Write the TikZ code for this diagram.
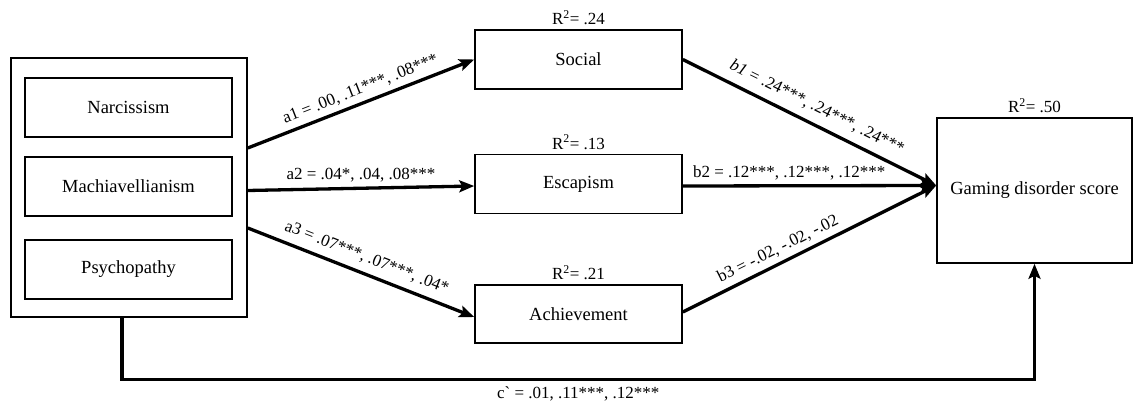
\documentclass[tikz,border=0pt]{standalone}
\usepackage{fontspec}
\setmainfont{Liberation Serif}
\newfontfamily\rawserif[Ligatures=ResetAll]{Liberation Serif}
\usetikzlibrary{arrows.meta}
\begin{document}
\begin{tikzpicture}[x=1pt,y=-1pt,
  box/.style={draw, line width=1.6pt, inner sep=0pt, font=\fontsize{18.5}{22}\selectfont},
  conn/.style={line width=3.3pt, -{Stealth[length=15pt,width=12pt,inset=3pt]}},
  lab/.style={font=\fontsize{17}{20}\selectfont, inner sep=5pt},
  rlab/.style={font=\fontsize{17}{20}\selectfont, above, inner sep=4pt}]
\useasboundingbox (0,0) rectangle (1134,409);
\node[box, minimum width=236pt, minimum height=259pt] (outer) at (129,187.5) {};
\node[box, minimum width=207pt, minimum height=59pt] (narc) at (128.5,107.5) {Narcissism};
\node[box, minimum width=207pt, minimum height=59pt] (mach) at (128.5,186.5) {Machiavellianism};
\node[box, minimum width=207pt, minimum height=59pt] (psych) at (128.5,269.5) {Psychopathy};
\node[box, minimum width=207pt, minimum height=59pt] (soc) at (578.5,59.5) {Social};
\node[box, minimum width=207pt, minimum height=59pt] (esc) at (578.5,184) {Escapism};
\node[box, minimum width=207pt, minimum height=58pt] (ach) at (578.5,314) {Achievement};
\node[box, minimum width=195pt, minimum height=145pt] (gam) at (1034.5,190.5) {Gaming disorder score};
\node[rlab] (r1) at (soc.north) {R\textsuperscript{2}= .24};
\node[rlab] (r2) at (esc.north) {R\textsuperscript{2}= .13};
\node[rlab] (r3) at (ach.north) {R\textsuperscript{2}= .21};
\node[rlab] (r4) at (gam.north) {R\textsuperscript{2}= .50};
\coordinate (gin) at ([yshift=5pt]gam.west);
\draw[conn] ([yshift=39.5pt]outer.east) -- node[lab, pos=0.52, above, sloped] {a1 = .00, .11***, .08***} (soc.west);
\draw[conn] ([yshift=-3pt]outer.east) -- node[lab, midway, above, inner sep=4pt] {a2 = .04*, .04, .08***} ([yshift=-2pt]esc.west);
\draw[conn] ([yshift=-40.5pt]outer.east) -- node[lab, pos=0.5, above, sloped, inner sep=7pt] {a3 = .07***, .07***, .04*} ([yshift=-3pt]ach.west);
\draw[conn] (soc.east) -- node[lab, pos=0.5, above, sloped, inner sep=8pt] {\textit{b1} = .24***, .24***, .24***} (gin);
\draw[conn] ([yshift=-2pt]esc.east) -- node[lab, pos=0.42, above, inner sep=4pt] {b2 = .12***, .12***, .12***} (gin);
\draw[conn] ([yshift=2pt]ach.east) -- node[lab, pos=0.4, above, sloped] {b3 = -.02, -.02, -.02} (gin);
\draw[conn] ([xshift=-7pt]outer.south) -- ++(0,62) -| node[lab, pos=0.25, below, inner sep=5pt] {c{\rawserif`} = .01, .11***, .12***} (gam.south);
\end{tikzpicture}
\end{document}
